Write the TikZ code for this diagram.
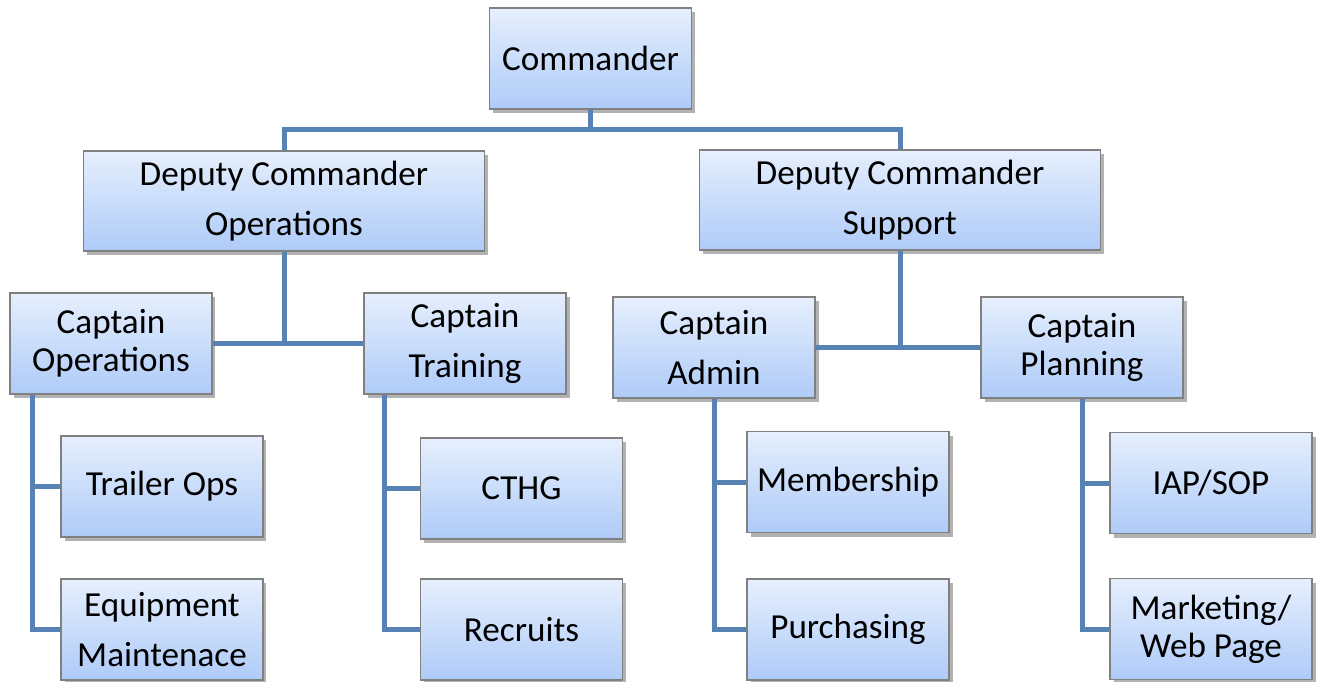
\documentclass[tikz,border=0pt]{standalone}
\usepackage{fontspec}
\setmainfont{Carlito}
\usetikzlibrary{shadows}

\definecolor{boxtop}{RGB}{230,239,253}
\definecolor{boxbot}{RGB}{174,203,248}
\definecolor{boxline}{RGB}{128,128,128}
\definecolor{linkblue}{RGB}{86,130,180}

\tikzset{
  unit/.style = {draw=boxline, line width=0.7pt, top color=boxtop, bottom color=boxbot,
                 minimum width=4.04cm, minimum height=2.02cm, inner sep=0pt, align=center,
                 font=\fontsize{20}{28.5}\selectfont,
                 drop shadow={shadow xshift=2pt, shadow yshift=-2.5pt, opacity=0.3, fill=black}},
  snug/.style = {font=\fontsize{20}{21.5}\selectfont},
  wide/.style = {minimum width=8.02cm, minimum height=2cm},
  link/.style = {draw=linkblue, line width=0.1cm}
}

\begin{document}
\begin{tikzpicture}[x=0.02cm,y=-0.02cm]
  \useasboundingbox (0,0) rectangle (1321,681);

  % boxes, row by row
  \node[unit] (cmd) at (590.5,58.5) {Commander};

  \node[unit,wide] (dco) at (284,201) {Deputy Commander\\Operations};
  \node[unit,wide] (dcs) at (900,200) {Deputy Commander\\Support};

  \node[unit,snug] (cpo) at (111,343.5) {Captain\\Operations};
  \node[unit] (ctr) at (465,343.5) {Captain\\Training};
  \node[unit] (cad) at (714,347.5) {Captain\\Admin};
  \node[unit,snug] (cpl) at (1082,347.5) {Captain\\Planning};

  \node[unit] (trl) at (162,486.5) {Trailer Ops};
  \node[unit] (eqp) at (162,629.5) {Equipment\\Maintenace};
  \node[unit] (cthg) at (521.5,488.5) {CTHG};
  \node[unit] (rcr) at (521.5,629.5) {Recruits};
  \node[unit] (mbr) at (848,482) {Membership};
  \node[unit] (pur) at (848,629.5) {Purchasing};
  \node[unit] (iap) at (1211,483) {IAP/SOP};
  \node[unit,snug] (mkt) at (1211,629) {Marketing/\\Web Page};

  % commander to deputies
  \draw[link] (cmd.south) -- ++(0,19.5) coordinate (cbus);
  \draw[link] (dco.north) |- (cbus) -| (dcs.north);

  % deputies to captains
  \draw[link] (cpo.east) -- (ctr.west);
  \draw[link] (dco.south) -- (dco.south |- cpo.east);
  \draw[link] (cad.east) -- (cpl.west);
  \draw[link] (dcs.south) -- (dcs.south |- cad.east);

  % captains to sections
  \draw[link] ([xshift=0.46cm]cpo.south west) |- (trl.west);
  \draw[link] ([xshift=0.46cm]cpo.south west) |- (eqp.west);
  \draw[link] ([xshift=0.42cm]ctr.south west) |- (cthg.west);
  \draw[link] ([xshift=0.42cm]ctr.south west) |- (rcr.west);
  \draw[link] (cad.south) |- (mbr.west);
  \draw[link] (cad.south) |- (pur.west);
  \draw[link] (cpl.south) |- (iap.west);
  \draw[link] (cpl.south) |- (mkt.west);
\end{tikzpicture}
\end{document}
